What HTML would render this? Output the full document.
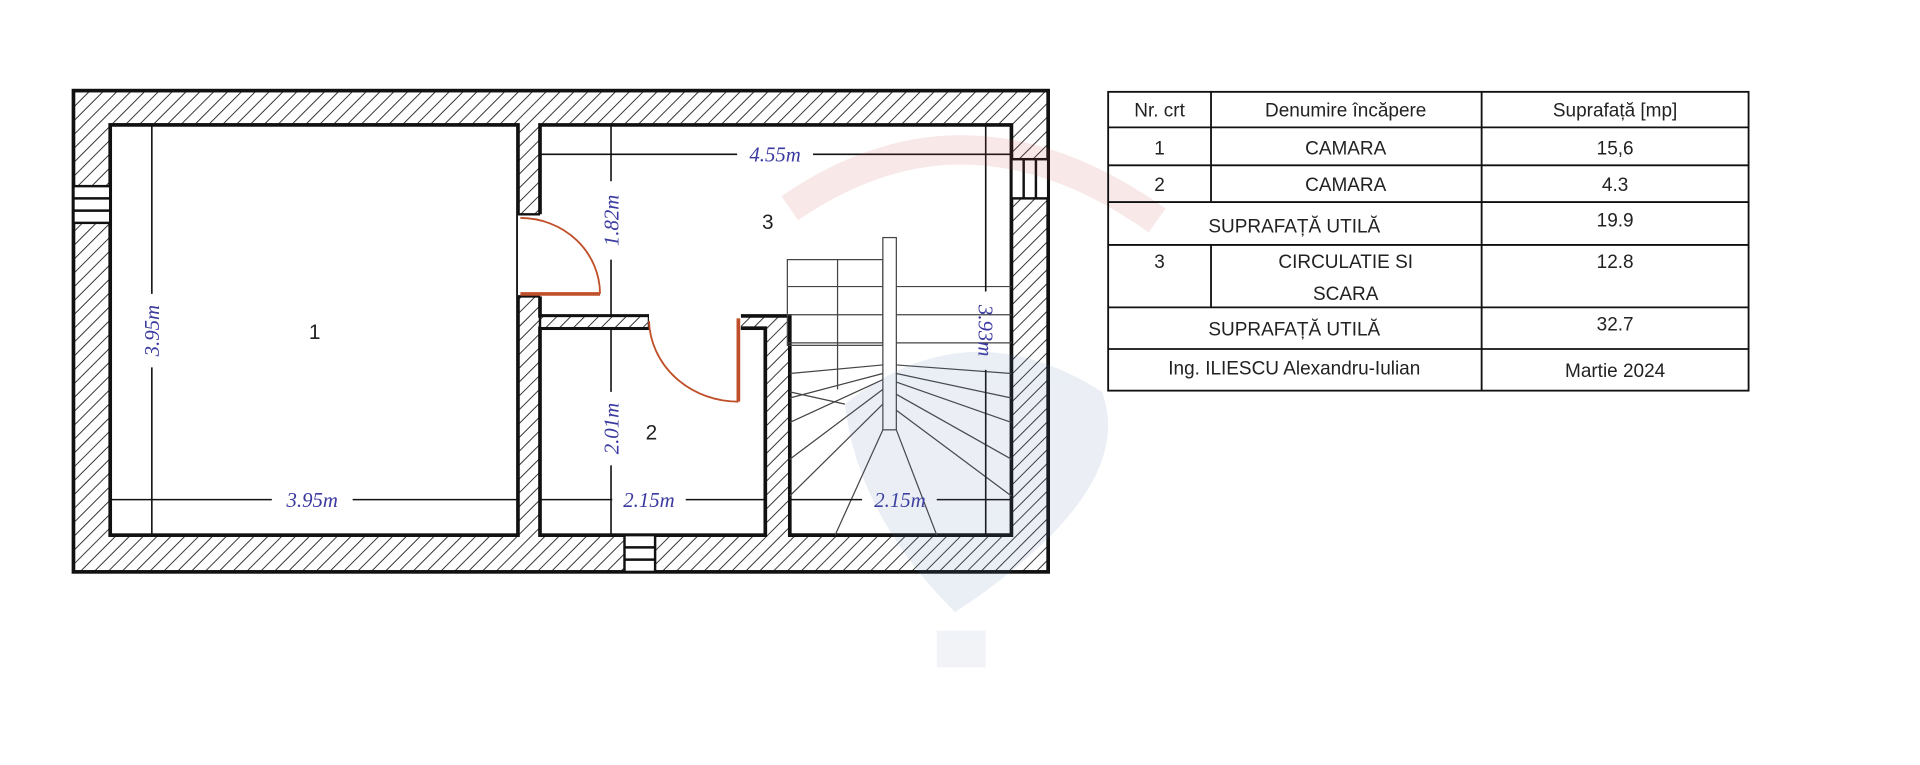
<!DOCTYPE html>
<html><head><meta charset="utf-8"><style>
html,body{margin:0;padding:0;background:#fff;}
svg{display:block}
</style></head><body>
<svg width="1920" height="765" viewBox="0 0 1568 624.7" preserveAspectRatio="none" xmlns="http://www.w3.org/2000/svg">
<defs>
<pattern id="h" patternUnits="userSpaceOnUse" width="8" height="8" patternTransform="rotate(45)">
<rect width="8" height="8" fill="#fff"/><line x1="0" y1="0" x2="0" y2="8" stroke="#333" stroke-width="1.6"/>
</pattern>
</defs>
<rect x="60" y="74" width="796" height="393" fill="url(#h)" stroke="#111" stroke-width="3"/>
<rect x="90" y="102" width="333" height="335" fill="#fff" stroke="#111" stroke-width="3"/>
<rect x="441" y="102" width="385" height="156" fill="#fff" stroke="none"/>
<rect x="645" y="210" width="181" height="227" fill="#fff"/>
<rect x="441" y="268" width="184" height="169" fill="#fff" stroke="#111" stroke-width="3"/>
<path d="M441 175 V102 H826 V437 H645 V258 H605" fill="none" stroke="#111" stroke-width="3"/>
<path d="M441 242 V258 H530 V268" fill="none" stroke="#111" stroke-width="3"/>
<rect x="423" y="175" width="18" height="67" fill="#fff"/>
<line x1="423" y1="175" x2="441" y2="175" stroke="#111" stroke-width="2"/>
<line x1="423" y1="242" x2="441" y2="242" stroke="#111" stroke-width="2"/>
<rect x="441" y="258" width="89" height="10" fill="url(#h)" stroke="#111" stroke-width="2"/>
<rect x="530" y="256" width="75" height="14" fill="#fff"/>
<line x1="425" y1="240" x2="490" y2="240" stroke="#c0502a" stroke-width="3"/>
<path d="M490 240 A65 62 0 0 0 425 178" fill="none" stroke="#c0502a" stroke-width="1.5"/>
<line x1="603" y1="260" x2="603" y2="328" stroke="#c0502a" stroke-width="3"/>
<path d="M530 262 A73 68 0 0 0 603 328" fill="none" stroke="#c0502a" stroke-width="1.5"/>
<g stroke="#111" stroke-width="2" fill="#fff">
<rect x="60" y="152" width="30" height="30"/><line x1="60" y1="162" x2="90" y2="162"/><line x1="60" y1="172" x2="90" y2="172"/>
<rect x="826" y="130" width="30" height="32"/><line x1="836" y1="130" x2="836" y2="162"/><line x1="846" y1="130" x2="846" y2="162"/>
<rect x="510" y="437" width="25" height="30"/><line x1="510" y1="447" x2="535" y2="447"/><line x1="510" y1="457" x2="535" y2="457"/>
</g>
<g stroke="#444" stroke-width="1" fill="none">
<rect x="643" y="212" width="78" height="70"/>
<line x1="643" y1="234" x2="826" y2="234"/><line x1="643" y1="257" x2="826" y2="257"/><line x1="643" y1="280" x2="826" y2="280"/>
<line x1="684" y1="212" x2="684" y2="318"/>
<line x1="645" y1="305" x2="721" y2="298"/><line x1="732" y1="298" x2="826" y2="305"/>
<line x1="645" y1="325" x2="721" y2="305"/><line x1="645" y1="345" x2="721" y2="310"/><line x1="645" y1="375" x2="721" y2="318"/>
<line x1="645" y1="405" x2="721" y2="330"/><line x1="645" y1="320" x2="690" y2="330"/>
<line x1="732" y1="305" x2="826" y2="325"/><line x1="732" y1="312" x2="826" y2="345"/><line x1="732" y1="322" x2="826" y2="375"/><line x1="732" y1="335" x2="826" y2="405"/>
<line x1="721" y1="351" x2="682" y2="437"/><line x1="732" y1="351" x2="765" y2="437"/>
<rect x="721" y="194" width="11" height="157" fill="#fff"/>
</g>
<g stroke="#111" stroke-width="1.3">
<line x1="124" y1="102" x2="124" y2="240"/><line x1="124" y1="300" x2="124" y2="437"/>
<line x1="90" y1="408" x2="222" y2="408"/><line x1="288" y1="408" x2="423" y2="408"/>
<line x1="441" y1="126" x2="602" y2="126"/><line x1="664" y1="126" x2="826" y2="126"/>
<line x1="499" y1="102" x2="499" y2="148"/><line x1="499" y1="212" x2="499" y2="258"/>
<line x1="499" y1="268" x2="499" y2="320"/><line x1="499" y1="380" x2="499" y2="437"/>
<line x1="441" y1="408" x2="500" y2="408"/><line x1="560" y1="408" x2="625" y2="408"/>
<line x1="645" y1="408" x2="704" y2="408"/><line x1="765" y1="408" x2="826" y2="408"/>
<line x1="805" y1="102" x2="805" y2="238"/><line x1="805" y1="302" x2="805" y2="437"/>
</g>
<g font-family="Liberation Serif, serif" font-style="italic" font-size="17" fill="#3a3aa0" text-anchor="middle">
<text x="255" y="414">3.95m</text>
<text x="530" y="414">2.15m</text>
<text x="735" y="414">2.15m</text>
<text x="633" y="132">4.55m</text>
<text transform="translate(130,270) rotate(-90)">3.95m</text>
<text transform="translate(505,180) rotate(-90)">1.82m</text>
<text transform="translate(505,350) rotate(-90)">2.01m</text>
<text transform="translate(799,270) rotate(90)">3.93m</text>
</g>
<g font-family="Liberation Sans, sans-serif" font-size="17" fill="#222" text-anchor="middle">
<text x="257" y="277">1</text><text x="532" y="359">2</text><text x="627" y="187">3</text>
</g>
<g opacity="0.12">
<path d="M645 170 Q790 70 945 180" stroke="#d04040" stroke-width="24" fill="none"/>
<path d="M690 330 Q790 250 900 320 Q930 400 780 500 Q700 420 690 330 Z" fill="#5a7fb0"/>
<rect x="765" y="515" width="40" height="30" fill="#8aa0c0"/>
</g>
<g stroke="#111" stroke-width="1.5" fill="none">
<rect x="905" y="75" width="523" height="244"/>
<line x1="905" y1="104" x2="1428" y2="104"/><line x1="905" y1="135" x2="1428" y2="135"/>
<line x1="905" y1="165" x2="1428" y2="165"/><line x1="905" y1="200" x2="1428" y2="200"/>
<line x1="905" y1="251" x2="1428" y2="251"/><line x1="905" y1="285" x2="1428" y2="285"/>
<line x1="989" y1="75" x2="989" y2="165"/><line x1="989" y1="200" x2="989" y2="251"/>
<line x1="1210" y1="75" x2="1210" y2="319"/>
</g>
<g font-family="Liberation Sans, sans-serif" font-size="15.5" fill="#222" text-anchor="middle">
<text x="947" y="95">Nr. crt</text><text x="1099" y="95">Denumire încăpere</text><text x="1319" y="95">Suprafață [mp]</text>
<text x="947" y="126">1</text><text x="1099" y="126">CAMARA</text><text x="1319" y="126">15,6</text>
<text x="947" y="156">2</text><text x="1099" y="156">CAMARA</text><text x="1319" y="156">4.3</text>
<text x="1057" y="190">SUPRAFAȚĂ UTILĂ</text><text x="1319" y="185">19.9</text>
<text x="947" y="219">3</text><text x="1099" y="219">CIRCULATIE SI</text><text x="1099" y="245">SCARA</text><text x="1319" y="219">12.8</text>
<text x="1057" y="274">SUPRAFAȚĂ UTILĂ</text><text x="1319" y="270">32.7</text>
<text x="1057" y="306">Ing. ILIESCU Alexandru-Iulian</text><text x="1319" y="308">Martie 2024</text>
</g>
</svg>
</body></html>
